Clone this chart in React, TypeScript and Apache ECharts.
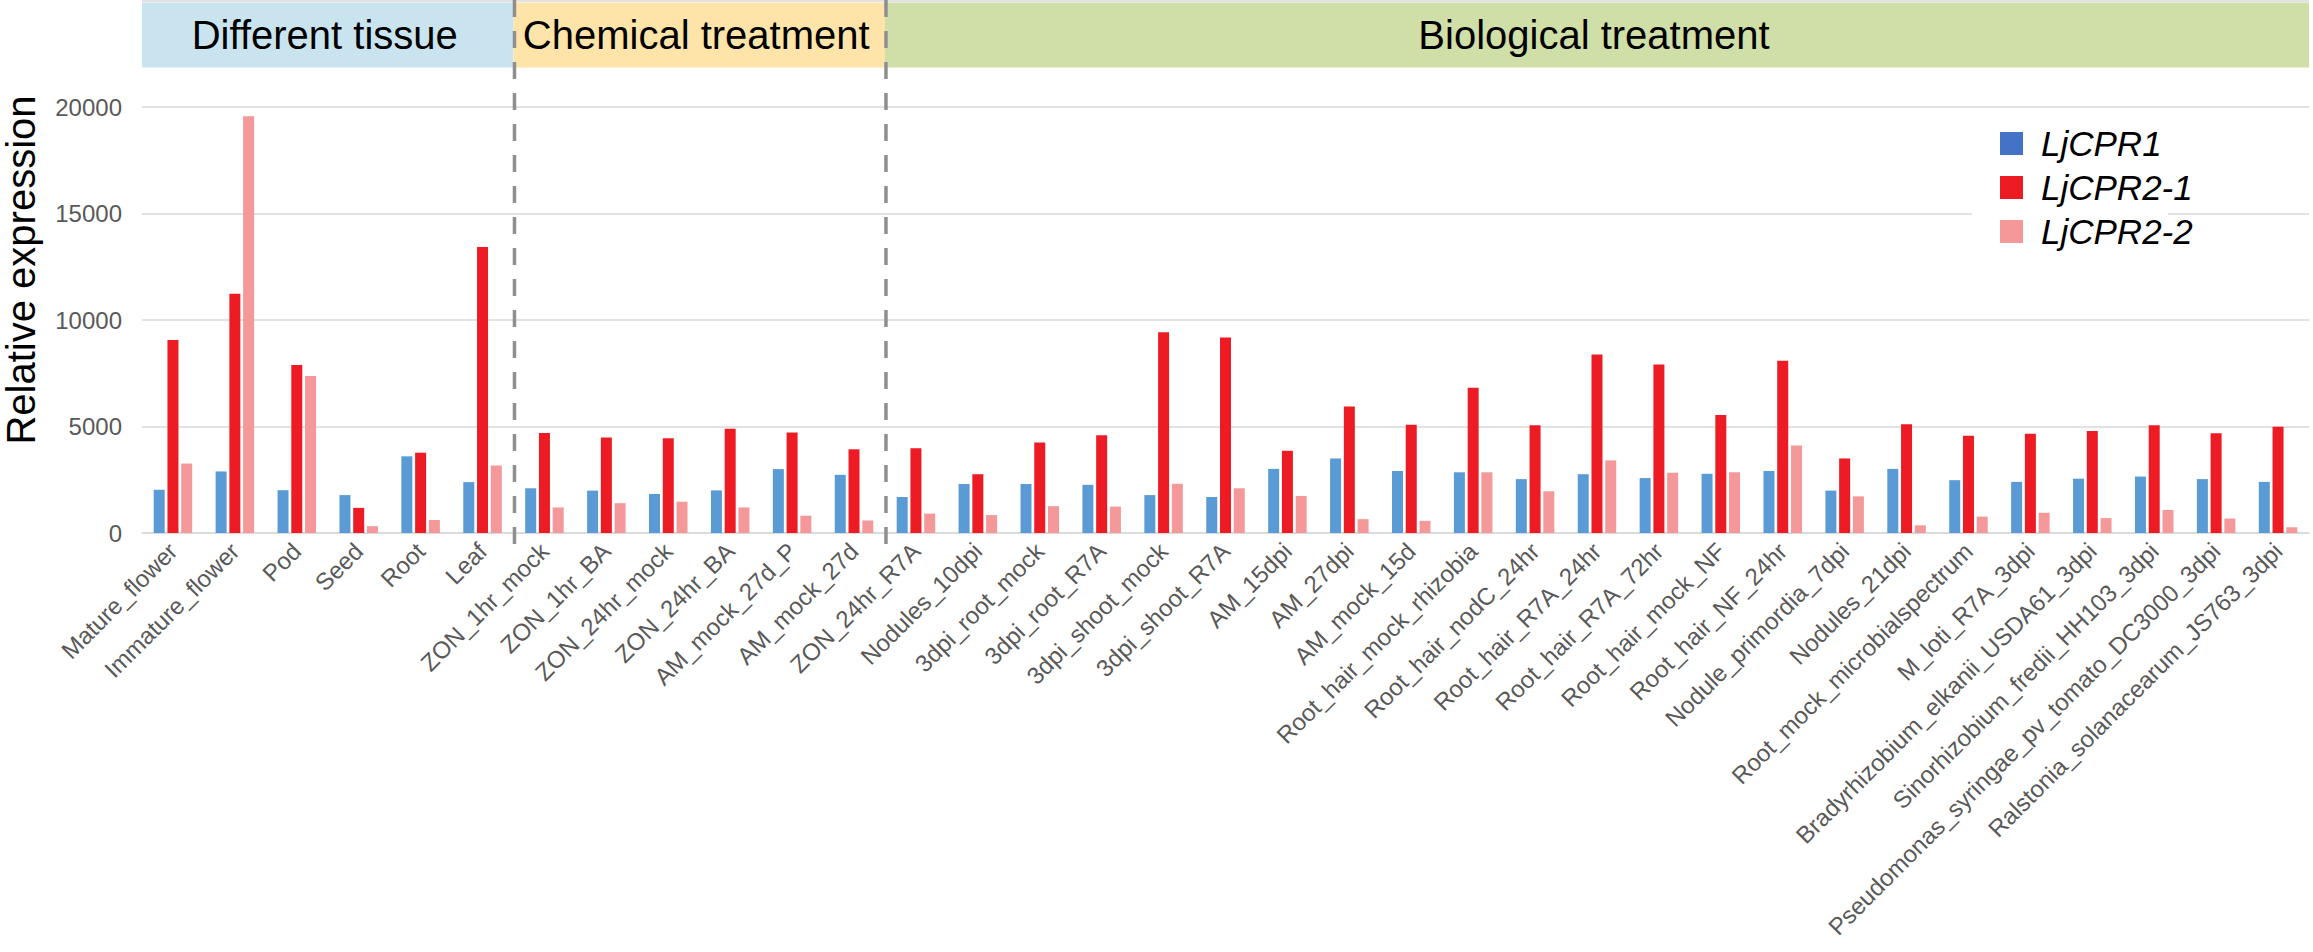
import React, { useEffect, useRef } from "react";
import * as echarts from "echarts";

const categories = [
  "Mature_flower", "Immature_flower", "Pod", "Seed", "Root", "Leaf",
  "ZON_1hr_mock", "ZON_1hr_BA", "ZON_24hr_mock", "ZON_24hr_BA", "AM_mock_27d_P", "AM_mock_27d",
  "ZON_24hr_R7A", "Nodules_10dpi", "3dpi_root_mock", "3dpi_root_R7A", "3dpi_shoot_mock", "3dpi_shoot_R7A",
  "AM_15dpi", "AM_27dpi", "AM_mock_15d", "Root_hair_mock_rhizobia", "Root_hair_nodC_24hr",
  "Root_hair_R7A_24hr", "Root_hair_R7A_72hr", "Root_hair_mock_NF", "Root_hair_NF_24hr",
  "Nodule_primordia_7dpi", "Nodules_21dpi", "Root_mock_microbialspectrum", "M_loti_R7A_3dpi",
  "Bradyrhizobium_elkanii_USDA61_3dpi", "Sinorhizobium_fredii_HH103_3dpi",
  "Pseudomonas_syringae_pv_tomato_DC3000_3dpi", "Ralstonia_solanacearum_JS763_3dpi",
];

const seriesNames = ["LjCPR1", "LjCPR2-1", "LjCPR2-2"];

const cpr1 = [2030, 2890, 2010, 1780, 3600, 2390, 2100, 1990, 1830, 2000, 3000, 2730, 1690, 2300, 2300, 2260, 1780, 1690, 3010, 3500, 2910, 2850, 2530, 2760, 2580, 2780, 2910, 1990, 3010, 2480, 2400, 2550, 2650, 2530, 2400];
const cpr21 = [9060, 11230, 7890, 1180, 3770, 13430, 4700, 4480, 4450, 4900, 4720, 3930, 3980, 2760, 4250, 4590, 9430, 9180, 3860, 5940, 5080, 6820, 5060, 8380, 7910, 5540, 8090, 3500, 5110, 4560, 4660, 4790, 5060, 4680, 4990];
const cpr22 = [3260, 19570, 7370, 320, 610, 3170, 1200, 1400, 1470, 1200, 810, 590, 910, 840, 1260, 1240, 2310, 2100, 1740, 650, 570, 2850, 1960, 3410, 2830, 2850, 4110, 1720, 360, 770, 950, 700, 1080, 680, 270];

const groups = [
  { name: "Different tissue", count: 6, color: "#C9E4EF" },
  { name: "Chemical treatment", count: 6, color: "#FEE4A8" },
  { name: "Biological treatment", count: 23, color: "#D0DEA8" },
];

const yTicks = [0, 5000, 10000, 15000, 20000];

const FONT = "'Liberation Sans', Arial, sans-serif";

export default function App() {
  const ref = useRef<HTMLDivElement>(null);

  useEffect(() => {
    if (!ref.current) return;
    const chart = echarts.init(ref.current, undefined, { renderer: "svg" });

    const W = 2313;
    const gridLeft = 142;
    const gridRight = 4;
    const plotW = W - gridLeft - gridRight;
    const catW = plotW / categories.length;

    const graphics: any[] = [];
    graphics.push({
      type: "line",
      z: 0,
      shape: { x1: gridLeft, y1: 1, x2: W - gridRight, y2: 1 },
      style: { stroke: "#D9D9D9", lineWidth: 1.5 },
    });
    let start = 0;
    groups.forEach((g, i) => {
      const x0 = gridLeft + start * catW;
      const w = g.count * catW;
      graphics.push({
        type: "rect",
        z: 0,
        shape: { x: x0, y: 2.5, width: w, height: 65 },
        style: { fill: g.color },
      });
      graphics.push({
        type: "text",
        z: 1,
        x: x0 + w / 2 - 3,
        y: 35,
        style: {
          text: g.name,
          fill: "#000",
          font: `40px ${FONT}`,
          textAlign: "center",
          textVerticalAlign: "middle",
        },
      });
      start += g.count;
      if (i < groups.length - 1) {
        const xl = gridLeft + start * catW + 1;
        graphics.push({
          type: "line",
          z: 5,
          shape: { x1: xl, y1: 0, x2: xl, y2: 550 },
          style: { stroke: "#8F8F8F", lineWidth: 3.5, lineDash: [17, 14] },
        });
      }
    });
    // legend white backdrop
    graphics.push({
      type: "rect",
      z: 1,
      shape: { x: 1972, y: 120, width: 196, height: 130 },
      style: { fill: "#fff" },
    });
    graphics.push({
      type: "text",
      z: 1,
      x: 21,
      y: 270,
      rotation: Math.PI / 2,
      style: {
        text: "Relative expression",
        fill: "#000",
        font: `40px ${FONT}`,
        textAlign: "center",
        textVerticalAlign: "middle",
      },
    });

    const colors = ["#5B9BD5", "#ED1C24", "#F4989A"];
    const legendColors = ["#4472C4", "#ED1C24", "#F4989A"];
    const data = [cpr1, cpr21, cpr22];

    chart.setOption({
      animation: false,
      backgroundColor: "#fff",
      grid: { left: gridLeft, right: gridRight, top: 107, bottom: 952 - 533, containLabel: false },
      legend: {
        orient: "vertical",
        left: 2000,
        top: 126,
        padding: 0,
        itemWidth: 23,
        itemHeight: 23,
        itemGap: 9,
        icon: "rect",
        textStyle: { fontFamily: FONT, fontSize: 35, fontStyle: "italic", color: "#000", padding: [0, 0, 0, 13] },
        data: seriesNames.map((n, i) => ({ name: n, itemStyle: { color: legendColors[i] } })),
      },
      xAxis: {
        type: "category",
        data: categories,
        axisLine: { show: true, lineStyle: { color: "#D9D9D9", width: 1.5 } },
        axisTick: { show: false },
        axisLabel: {
          interval: 0,
          rotate: 45,
          margin: 14,
          fontSize: 24,
          fontFamily: FONT,
          color: "#595959",
        },
      },
      yAxis: {
        type: "value",
        min: yTicks[0],
        max: yTicks[yTicks.length - 1],
        interval: 5000,
        axisLine: { show: false },
        axisTick: { show: false },
        splitLine: { lineStyle: { color: "#D9D9D9", width: 1.5 } },
        axisLabel: {
          fontSize: 24,
          fontFamily: FONT,
          color: "#595959",
          margin: 20,
          formatter: (v: number) => String(v),
        },
      },
      graphic: graphics,
      series: seriesNames.map((n, i) => ({
        name: n,
        type: "bar",
        data: data[i],
        barWidth: 11,
        barGap: "25%",
        z: 2,
        itemStyle: { color: colors[i] },
      })),
    });

    return () => chart.dispose();
  }, []);

  return (
    <div
      ref={ref}
      style={{ position: "absolute", left: 0, top: 0, width: 2313, height: 952 }}
    />
  );
}
